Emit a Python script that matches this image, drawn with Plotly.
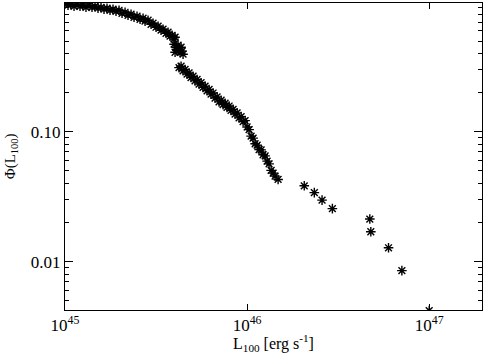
import plotly.graph_objects as go

# luminosity in units of 1e45 erg/s, cumulative function Phi(L100)
L_dense = [1.000, 1.039, 1.079, 1.121, 1.164, 1.209, 1.256, 1.304, 1.355, 1.407,
           1.462, 1.518, 1.577, 1.638, 1.701, 1.767, 1.835, 1.906, 1.980, 2.057,
           2.137, 2.219, 2.305, 2.394, 2.486, 2.583, 2.683, 2.752, 2.858, 2.969,
           3.044, 3.162, 3.245, 3.369, 3.455, 3.589, 3.681, 3.775, 3.872, 3.971,
           4.022,
           3.971, 4.073, 4.178, 4.125, 4.230, 4.284, 4.339, 4.395, 4.450, 4.022,
           4.230, 4.339, 4.450, 4.564, 4.681, 4.801, 4.923, 5.050, 5.179, 5.312,
           5.448, 5.587, 5.731, 5.878, 6.029, 6.183, 6.342, 6.505, 6.671, 6.842,
           7.017, 7.197, 7.382, 7.570, 7.765, 7.964, 8.168, 8.378, 8.592, 8.813,
           9.038, 9.270, 9.507, 9.750, 10.00, 10.26, 10.52, 10.79, 11.07, 11.35,
           11.64, 11.94, 12.24, 12.56, 12.88, 13.21, 13.55, 13.90, 14.25, 14.80]
phi_dense = [0.977, 0.944, 0.960, 0.927, 0.960, 0.927, 0.944, 0.910, 0.944, 0.910,
             0.927, 0.895, 0.910, 0.879, 0.895, 0.863, 0.879, 0.848, 0.863, 0.818,
             0.833, 0.790, 0.804, 0.762, 0.776, 0.736, 0.749, 0.711, 0.723, 0.673,
             0.686, 0.639, 0.650, 0.606, 0.617, 0.574, 0.585, 0.545, 0.554, 0.517,
             0.535,
             0.473, 0.448, 0.465, 0.425, 0.433, 0.410, 0.448, 0.418, 0.396, 0.410,
             0.312, 0.320, 0.295, 0.302, 0.278, 0.284, 0.262, 0.268, 0.247, 0.253,
             0.233, 0.239, 0.220, 0.225, 0.207, 0.212, 0.195, 0.199, 0.182, 0.186,
             0.170, 0.175, 0.162, 0.166, 0.154, 0.158, 0.146, 0.149, 0.137, 0.140,
             0.128, 0.131, 0.120, 0.122, 0.109, 0.104, 0.0927, 0.0894, 0.0809, 0.0790,
             0.0731, 0.0726, 0.0666, 0.0653, 0.0595, 0.0567, 0.0505, 0.0481, 0.0456, 0.0430]

L_bright = [20.6, 23.4, 25.8, 29.4, 47.2, 47.8, 59.8, 70.8, 100.0]
phi_bright = [0.0384, 0.0340, 0.0298, 0.0256, 0.0213, 0.0170, 0.0128, 0.00853, 0.0042]

x_ticks = [1e45, 1e46, 1e47]
x_labels = ["10<sup>45</sup>", "10<sup>46</sup>", "10<sup>47</sup>"]
y_ticks = [0.01, 0.1]
y_labels = ["0.01", "0.10"]
y_minor = [0.005, 0.006, 0.007, 0.008, 0.009,
           0.02, 0.03, 0.04, 0.05, 0.06, 0.07, 0.08, 0.09,
           0.2, 0.3, 0.4, 0.5, 0.6, 0.7, 0.8, 0.9]

xs = [v * 1e45 for v in L_dense + L_bright]
ys = phi_dense + phi_bright

fig = go.Figure()
fig.add_trace(go.Scatter(
    x=xs, y=ys, mode="markers",
    marker=dict(symbol="asterisk-open", size=8, color="black",
                line=dict(color="black", width=1.4)),
    showlegend=False,
))

font = "Liberation Serif"
fig.update_layout(
    width=485, height=355,
    margin=dict(l=65, r=3, t=3, b=45),
    paper_bgcolor="white", plot_bgcolor="white",
    font=dict(family=font, size=17, color="black"),
)
fig.update_xaxes(
    type="log", range=[45, 47.29], automargin=False,
    tickvals=x_ticks, ticktext=x_labels,
    ticks="inside", ticklen=6, tickcolor="black",
    showline=True, linecolor="black", linewidth=1, mirror="allticks",
    showgrid=False, zeroline=False,
)
fig.update_yaxes(
    type="log", range=[-2.372, -0.008], automargin=False,
    tickvals=y_ticks, ticktext=y_labels,
    ticks="inside", ticklen=8, tickcolor="black",
    minor=dict(tickvals=y_minor, ticks="inside", ticklen=4, tickcolor="black", showgrid=False),
    showline=True, linecolor="black", linewidth=1, mirror="allticks",
    showgrid=False, zeroline=False,
)

# axis titles placed by hand
fig.add_annotation(text="L<sub>100</sub> [erg s<sup>-1</sup>]", xref="paper", yref="paper",
                   x=0.5, y=-0.065, yanchor="top", showarrow=False, font=dict(size=16))
fig.add_annotation(text="Φ(L<sub>100</sub>)", xref="paper", yref="paper", textangle=-90,
                   x=-0.13, y=0.5, xanchor="center", showarrow=False, font=dict(size=15))

# drop the browser's default body margin so the figure sits at the page corner
fig.write_html("out.html", config={"displayModeBar": False},
               post_script="document.body.style.margin='0';")
